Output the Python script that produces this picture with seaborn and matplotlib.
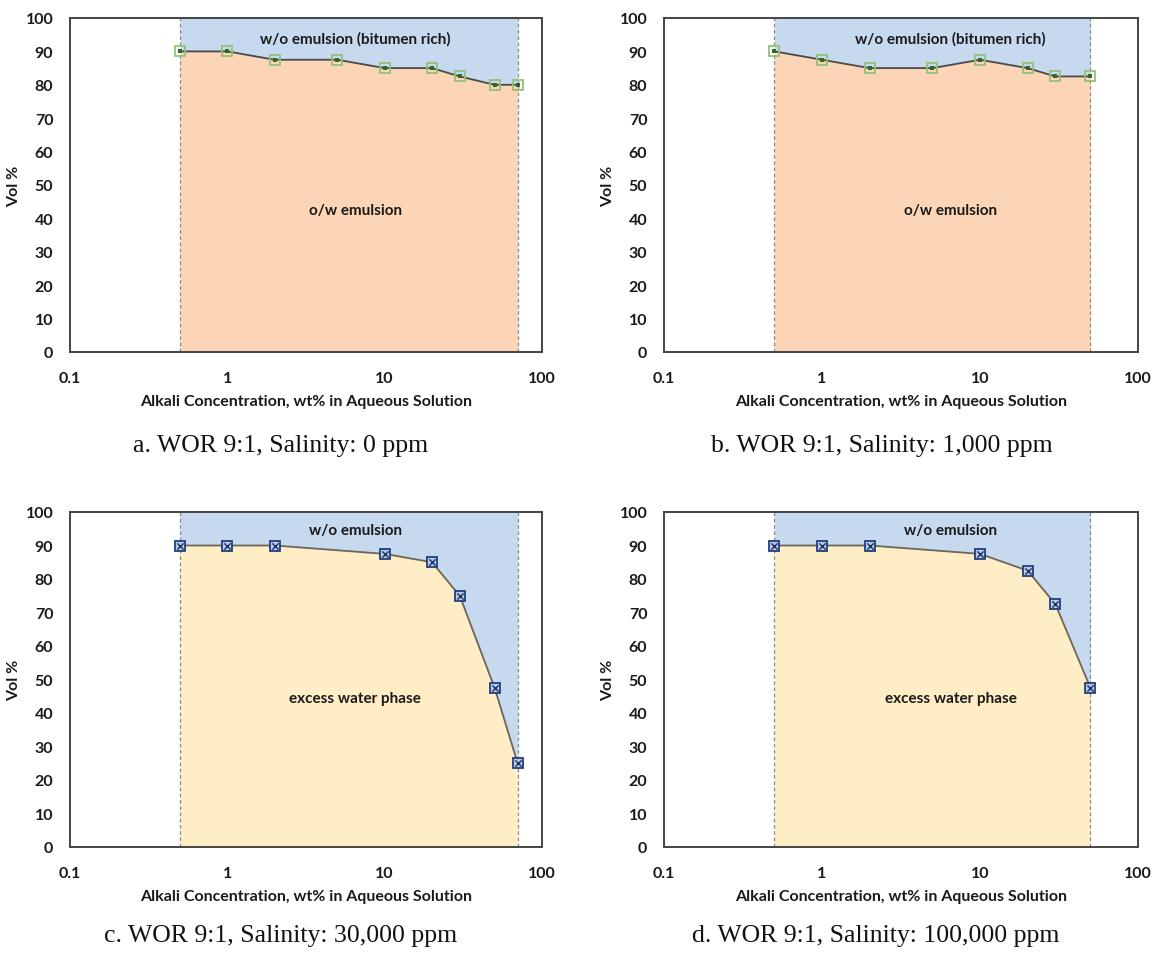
import numpy as np
import pandas as pd
import matplotlib
matplotlib.use("Agg")
import matplotlib.pyplot as plt
import seaborn as sns

# ---- data ----
conc_a = [0.5, 1, 2, 5, 10, 20, 30, 50, 70]
vol_a = [90, 90, 87.5, 87.5, 85, 85, 82.5, 80, 80]
conc_b = [0.5, 1, 2, 5, 10, 20, 30, 50]
vol_b = [90, 87.5, 85, 85, 87.5, 85, 82.5, 82.5]
conc_c = [0.5, 1, 2, 10, 20, 30, 50, 70]
vol_c = [90, 90, 90, 87.5, 85, 75, 47.5, 25]
conc_d = [0.5, 1, 2, 10, 20, 30, 50]
vol_d = [90, 90, 90, 87.5, 82.5, 72.5, 47.5]

captions = ["a. WOR 9:1, Salinity: 0 ppm", "b. WOR 9:1, Salinity: 1,000 ppm",
            "c. WOR 9:1, Salinity: 30,000 ppm", "d. WOR 9:1, Salinity: 100,000 ppm"]
upper_labels = ["w/o emulsion (bitumen rich)", "w/o emulsion (bitumen rich)",
                "w/o emulsion", "w/o emulsion"]
lower_labels = ["o/w emulsion", "o/w emulsion", "excess water phase", "excess water phase"]
x_ticks = [0.1, 1, 10, 100]
x_ticklabels = ["0.1", "1", "10", "100"]
y_ticks = list(range(0, 101, 10))

sns.set_theme(style="white")
plt.rcParams['font.family'] = ['Lato', 'DejaVu Sans']

fig = plt.figure(figsize=(11.54, 9.54), dpi=100)
W, H = 1154, 954
boxes = [(70, 19, 542, 353), (664, 19, 1138, 353), (70, 513, 542, 848), (664, 513, 1138, 848)]

blue = "#C6D9EE"
lower_cols = ["#FCD5B6", "#FCD5B6", "#FFEDC6", "#FFEDC6"]
series = [(conc_a, vol_a), (conc_b, vol_b), (conc_c, vol_c), (conc_d, vol_d)]
label_y = [(94, 42.5), (94, 42.5), (94.5, 44.5), (94.5, 44.5)]
cap_pos = [(281, 446), (882, 446), (281, 936), (876, 936)]

for i, ((x, y), (l, t, r, b)) in enumerate(zip(series, boxes)):
    ax = fig.add_axes([l / W, 1 - b / H, (r - l) / W, (b - t) / H])
    x = np.array(x, float)
    y = np.array(y, float)
    ax.fill_between(x, 0, y, color=lower_cols[i], lw=0, zorder=1)
    ax.fill_between(x, y, 100, color=blue, lw=0, zorder=1)
    for xv in (x[0], x[-1]):
        ax.plot([xv, xv], [0, 100], ls=(0, (3, 2)), color="#8C8C8C", lw=0.9, zorder=2)
    df = pd.DataFrame({"x": x, "y": y})
    if i < 2:
        sns.lineplot(data=df, x="x", y="y", ax=ax, color="#4A4A4A", lw=1.3, zorder=3,
                     marker="s", markersize=7.5, markerfacecolor="none",
                     markeredgecolor="#93C07A", markeredgewidth=1.3)
        sns.scatterplot(data=df, x="x", y="y", ax=ax, marker="s", s=6, color="#2E6B1E",
                        linewidth=0, zorder=4)
    else:
        sns.lineplot(data=df, x="x", y="y", ax=ax, color="#6B6656", lw=1.3, zorder=3,
                     marker="s", markersize=7.5, markerfacecolor="#B7C9E6",
                     markeredgecolor="#1F3F7F", markeredgewidth=1.3)
        sns.scatterplot(data=df, x="x", y="y", ax=ax, marker="x", s=20, color="#1F2F5F",
                        linewidth=1.0, zorder=4)
    ax.set_xscale("log")
    ax.set_xlim(0.1, 100)
    ax.set_ylim(0, 100)
    ax.set_xticks(x_ticks)
    ax.set_xticklabels(x_ticklabels)
    ax.set_yticks(y_ticks)
    ax.minorticks_off()
    ax.tick_params(length=0, labelsize=11.5)
    ax.tick_params(axis="x", pad=14)
    ax.tick_params(axis="y", pad=12)
    for lab in ax.get_xticklabels() + ax.get_yticklabels():
        lab.set_fontweight("bold")
        lab.set_color("#1A1A1A")
    ax.set_xlabel("Alkali Concentration, wt% in Aqueous Solution", fontsize=11.5,
                  fontweight="bold", color="#1A1A1A", labelpad=6)
    ax.set_ylabel("Vol %", fontsize=11.5, fontweight="bold", color="#1A1A1A", labelpad=3)
    for s in ax.spines.values():
        s.set_color("#444444")
        s.set_linewidth(1.4)
        s.set_visible(True)
    xm = 6.5
    ax.text(xm, label_y[i][0], upper_labels[i], ha="center", va="center",
            fontsize=11, fontweight="bold", color="#1A1A1A", zorder=5)
    ax.text(xm, label_y[i][1], lower_labels[i], ha="center", va="center",
            fontsize=11, fontweight="bold", color="#1A1A1A", zorder=5)
    cx, cy = cap_pos[i]
    fig.text(cx / W, 1 - cy / H, captions[i], ha="center", va="center",
             fontsize=18.5, family="Liberation Serif", color="#111111")

fig.savefig("out.png", dpi=100, facecolor="white")
